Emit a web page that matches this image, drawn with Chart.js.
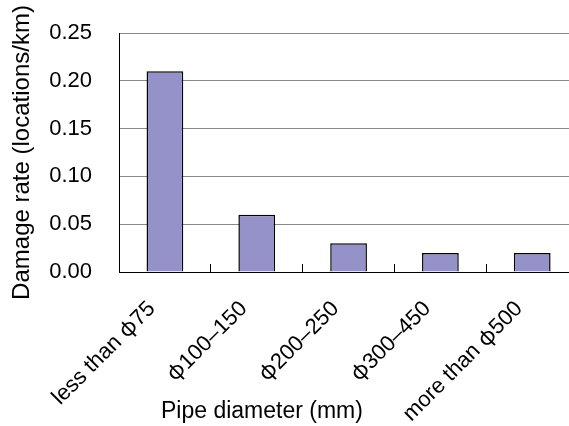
<!DOCTYPE html>
<html>
<head>
<meta charset="utf-8">
<script src="https://cdn.jsdelivr.net/npm/chart.js@4"></script>
<style>
  /* the original uses a full-width phi from a Japanese font */
  @font-face {
    font-family: "PhiWide";
    src: local("Noto Sans CJK JP"), local("NotoSansCJKjp-Regular"), local("Noto Sans CJK JP Regular");
    unicode-range: U+03C6;
  }
  html, body { margin: 0; padding: 0; background: #fff; overflow: hidden; }
  /* plot runs past the right edge of the original picture */
  #wrap { width: 583px; height: 426px; }
</style>
</head>
<body>
<div id="wrap"><canvas id="damageChart"></canvas></div>
<script>
const categories = ["less than φ75", "φ100–150", "φ200–250", "φ300–450", "more than φ500"];
const damageRate = [0.21, 0.06, 0.03, 0.02, 0.02];
const yTicks = [0, 0.05, 0.1, 0.15, 0.2, 0.25];

const FONT = "'Liberation Sans', Arial, sans-serif";
const LABEL_FONT = "PhiWide, 'Liberation Sans', Arial, sans-serif";

// x axis title sits left of centre in the original, so draw it by hand
const xTitle = {
  id: "xTitle",
  afterDraw(chart) {
    const ctx = chart.ctx;
    ctx.save();
    ctx.font = "23px " + FONT;
    ctx.fillStyle = "#000";
    ctx.textAlign = "left";
    ctx.textBaseline = "alphabetic";
    ctx.fillText("Pipe diameter (mm)", chart.chartArea.left + 42, 418);
    ctx.restore();
  },
};

const drawChart = () => {
  new Chart(document.getElementById("damageChart"), {
    type: "bar",
    data: {
      labels: categories,
      datasets: [
        {
          data: damageRate,
          backgroundColor: "#9492c8",
          borderColor: "#000",
          borderWidth: 1.5,
          categoryPercentage: 1,
          barPercentage: 0.4,
        },
      ],
    },
    options: {
      responsive: true,
      maintainAspectRatio: false,
      animation: false,
      layout: { padding: { top: 33, right: 1, bottom: 0, left: 0 } },
      plugins: { legend: { display: false }, tooltip: { enabled: false } },
      scales: {
        x: {
          grid: {
            offset: true,
            drawOnChartArea: false,
            drawTicks: true,
            tickLength: -8,
            color: "#000",
          },
          border: { color: "#000", width: 1 },
          ticks: {
            autoSkip: false,
            minRotation: 45,
            maxRotation: 45,
            padding: 32,
            labelOffset: -13,
            color: "#000",
            font: { family: LABEL_FONT, size: 22 },
          },
          afterFit: (scale) => { scale.height = 154; },
        },
        y: {
          min: 0,
          max: 0.25,
          afterBuildTicks: (scale) => { scale.ticks = yTicks.map((v) => ({ value: v })); },
          // invisible tick marks give the label gap without padding the top
          grid: { color: "#888", drawTicks: true, tickLength: 27, tickColor: "rgba(0,0,0,0)" },
          border: { color: "#000", width: 1 },
          ticks: {
            padding: 0,
            color: "#000",
            font: { family: FONT, size: 22 },
            callback: (v) => Number(v).toFixed(2),
          },
          title: {
            display: true,
            text: "Damage rate (locations/km)",
            color: "#000",
            padding: { top: 8, bottom: 0 },
            font: { family: FONT, size: 24 },
          },
          afterFit: (scale) => { scale.width = 119; },
        },
      },
    },
    plugins: [xTitle],
  });
};

document.fonts.load("22px PhiWide", "φ").then(drawChart, drawChart);
</script>
</body>
</html>
